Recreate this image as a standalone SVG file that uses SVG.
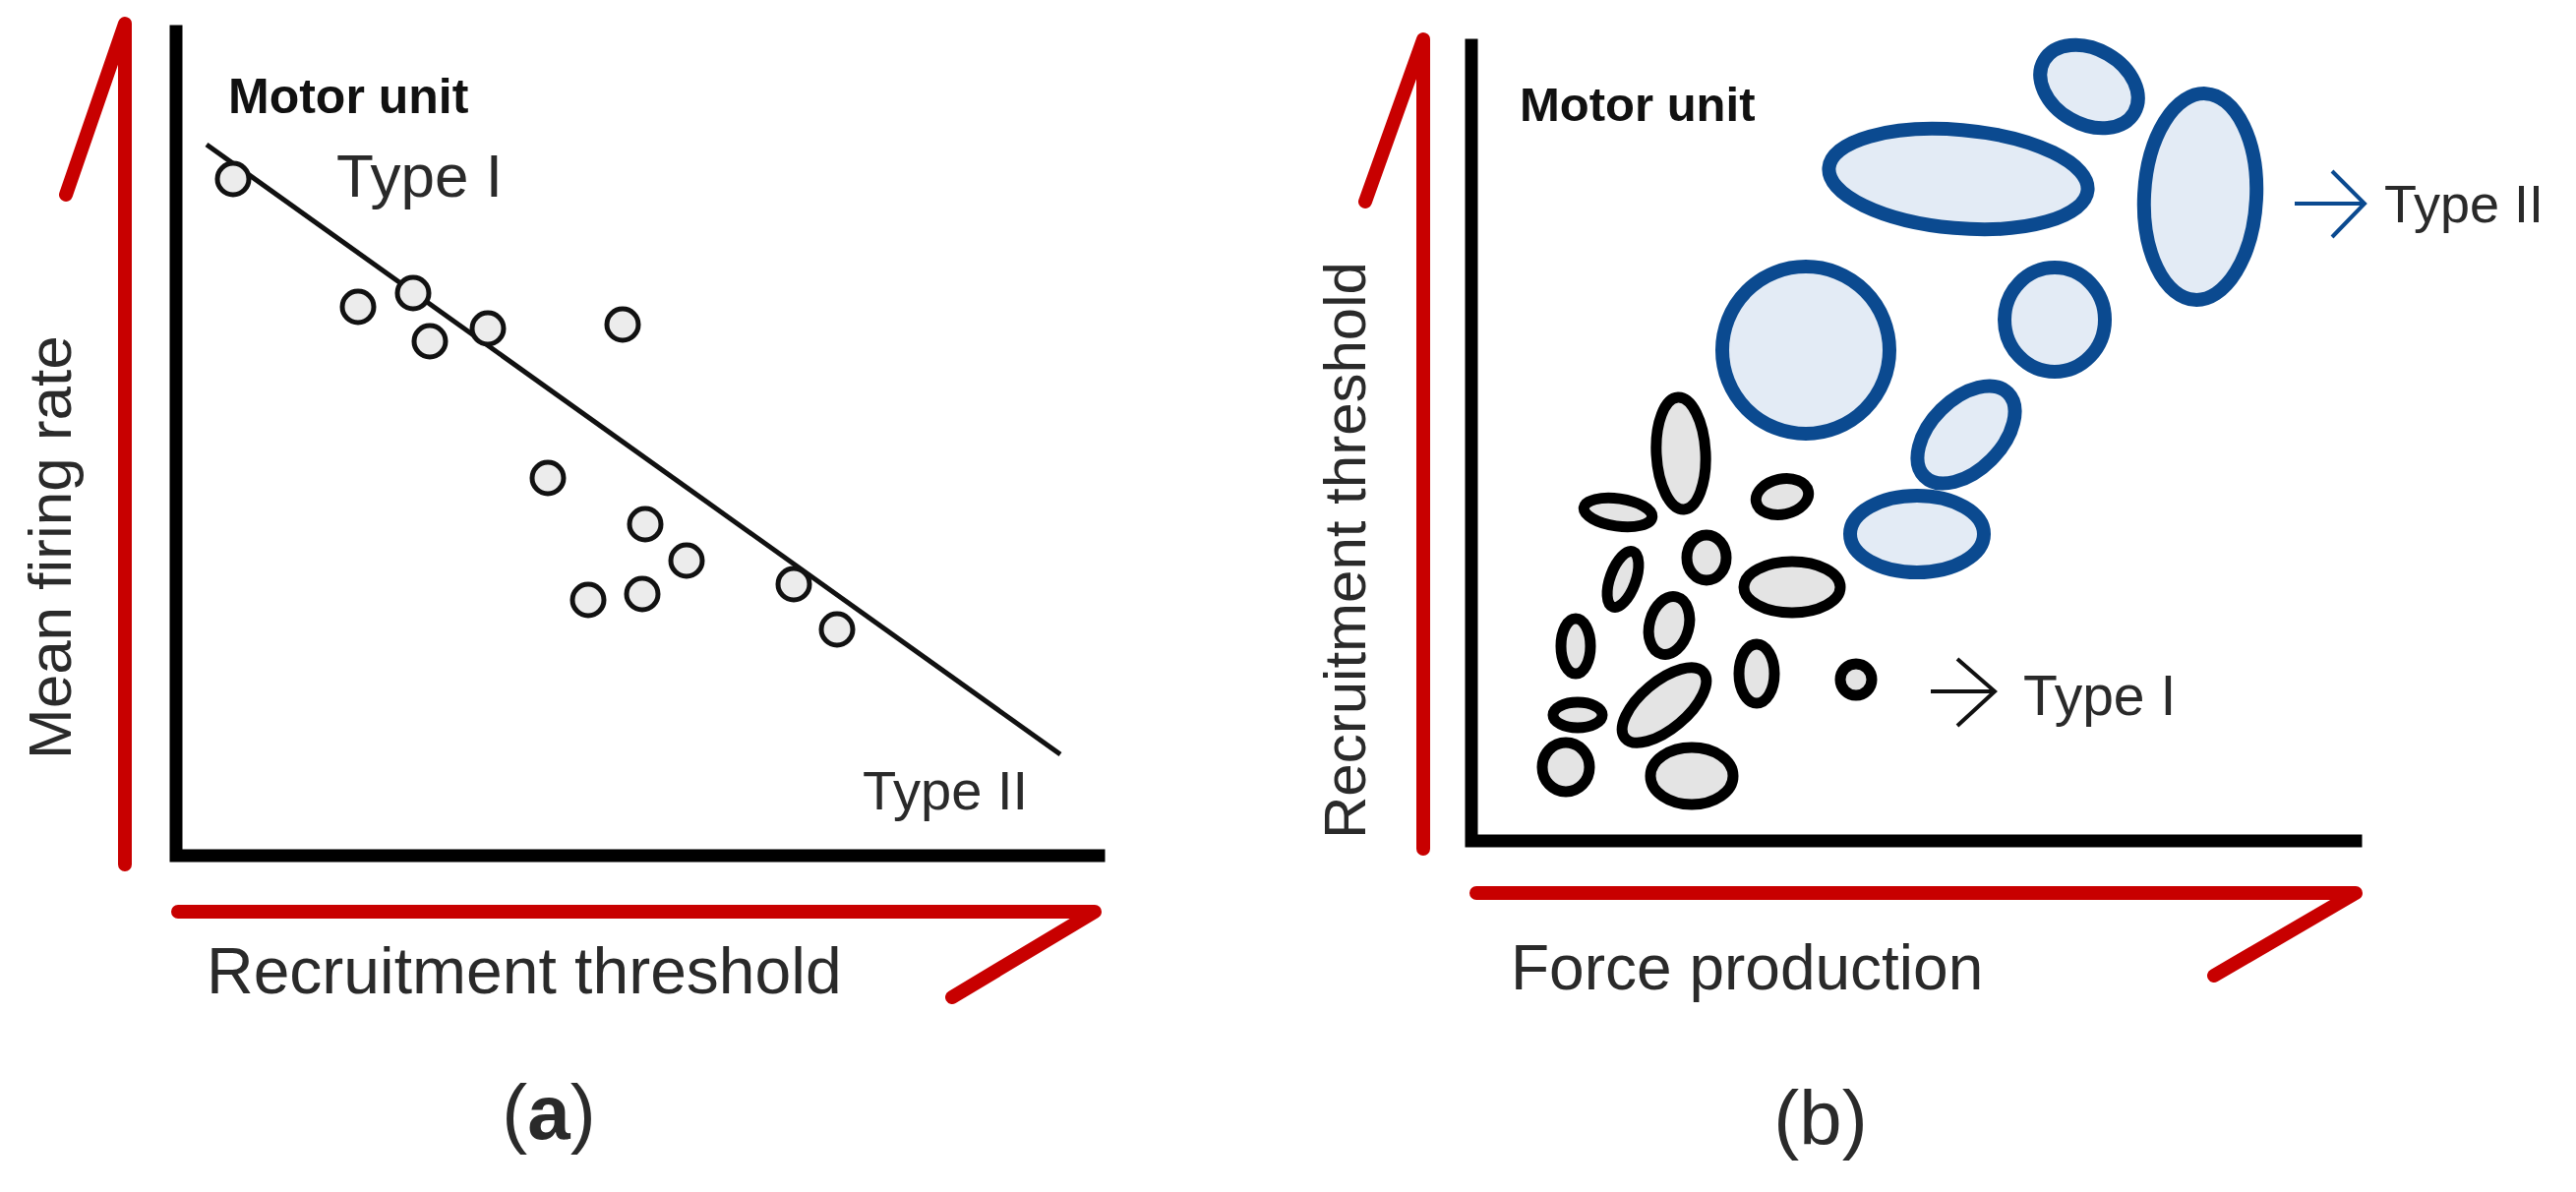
<svg xmlns="http://www.w3.org/2000/svg" width="2619" height="1212" viewBox="0 0 2619 1212">
<style>
.red{stroke:#c80000;stroke-width:14;fill:none;stroke-linecap:round;stroke-linejoin:round}
.ax{stroke:#000;stroke-width:13;fill:none;stroke-linecap:square;stroke-linejoin:miter}
.pt{fill:#ececec;stroke:#111;stroke-width:5}
.bk{fill:#e4e4e4;stroke:#000;stroke-width:11}
.bl{fill:#e3ebf5;stroke:#0b4a90;stroke-width:14}
.t{font-family:'Liberation Sans',Arial,sans-serif;fill:#2a2a2a}
.b{font-weight:bold;fill:#111}
</style>
<rect width="2619" height="1212" fill="#fff"/>
<g id="panel-a">
<polyline class="red" points="67,198 127,24 127,879"/>
<polyline class="red" points="181,927 1113,927 968,1014"/>
<polyline class="ax" points="179,32 179,870 1117,870"/>
<text class="t" transform="translate(72,772) rotate(-90)" font-size="62">Mean firing rate</text>
<text class="t" x="210" y="1010" font-size="66">Recruitment threshold</text>
<text class="t b" x="232" y="115" font-size="50">Motor unit</text>
<text class="t" x="342" y="200" font-size="62">Type I</text>
<text class="t" x="877" y="823" font-size="56">Type II</text>
<line x1="210" y1="147" x2="1078" y2="767" stroke="#111" stroke-width="5"/>
<g>
<circle class="pt" cx="237" cy="182" r="16"/><circle class="pt" cx="364" cy="312" r="16"/>
<circle class="pt" cx="420" cy="298" r="16"/><circle class="pt" cx="437" cy="347" r="16"/>
<circle class="pt" cx="496" cy="334" r="16"/><circle class="pt" cx="633" cy="330" r="16"/>
<circle class="pt" cx="557" cy="486" r="16"/><circle class="pt" cx="656" cy="533" r="16"/>
<circle class="pt" cx="698" cy="570" r="16"/><circle class="pt" cx="598" cy="610" r="16"/>
<circle class="pt" cx="653" cy="604" r="16"/><circle class="pt" cx="807" cy="594" r="16"/>
<circle class="pt" cx="851" cy="640" r="16"/>
</g>
<text class="t" x="558" y="1158" font-size="78" text-anchor="middle" fill="#000">(<tspan font-weight="bold">a</tspan>)</text>
</g>
<g id="panel-b">
<polyline class="red" points="1388,205 1447,40 1447,863"/>
<polyline class="red" points="1501,908 2395,908 2251,992"/>
<polyline class="ax" points="1496,46 1496,855 2395,855"/>
<text class="t" transform="translate(1388,853) rotate(-90)" font-size="60">Recruitment threshold</text>
<text class="t" x="1536" y="1006" font-size="64">Force production</text>
<text class="t b" x="1545" y="123" font-size="49">Motor unit</text>
<g id="type2">
<circle class="bl" cx="1836" cy="356" r="85"/>
<ellipse class="bl" cx="1991" cy="182" rx="132" ry="50" transform="rotate(5 1991 182)"/>
<ellipse class="bl" cx="2124" cy="88" rx="53" ry="38" transform="rotate(30 2124 88)"/>
<ellipse class="bl" cx="2237" cy="200" rx="57" ry="105" transform="rotate(3 2237 200)"/>
<ellipse class="bl" cx="2089" cy="325" rx="51" ry="53"/>
<ellipse class="bl" cx="1999" cy="442" rx="60" ry="36" transform="rotate(-45 1999 442)"/>
<ellipse class="bl" cx="1949" cy="543" rx="68" ry="39"/>
</g>
<g id="type1">
<ellipse class="bk" cx="1645" cy="521" rx="35" ry="14" transform="rotate(8 1645 521)"/>
<ellipse class="bk" cx="1709" cy="461" rx="25" ry="57" transform="rotate(-3 1709 461)"/>
<ellipse class="bk" cx="1812" cy="505" rx="27" ry="18" transform="rotate(-12 1812 505)"/>
<ellipse class="bk" cx="1650" cy="589" rx="13" ry="30" transform="rotate(20 1650 589)"/>
<ellipse class="bk" cx="1735" cy="567" rx="20" ry="23"/>
<ellipse class="bk" cx="1822" cy="597" rx="49" ry="26"/>
<ellipse class="bk" cx="1697" cy="636" rx="20" ry="30" transform="rotate(15 1697 636)"/>
<ellipse class="bk" cx="1602" cy="657" rx="15" ry="28"/>
<ellipse class="bk" cx="1786" cy="685" rx="18" ry="30"/>
<circle class="bk" cx="1887" cy="691" r="16"/>
<ellipse class="bk" cx="1604" cy="727" rx="25" ry="13"/>
<ellipse class="bk" cx="1692" cy="717" rx="52" ry="24" transform="rotate(-40 1692 717)"/>
<ellipse class="bk" cx="1592" cy="780" rx="24" ry="25"/>
<ellipse class="bk" cx="1720" cy="789" rx="42" ry="29"/>
</g>
<g id="connectors">
<path d="M2333,207 H2404 M2371,174 L2404,207 L2371,241" fill="none" stroke="#0b4a90" stroke-width="4"/>
<path d="M1963,703 H2028 M1990,670 L2028,703 L1990,738" fill="none" stroke="#111" stroke-width="4"/>
</g>
<text class="t" x="2424" y="226" font-size="54">Type II</text>
<text class="t" x="2057" y="727" font-size="57">Type I</text>
<text class="t" x="1851" y="1164" font-size="78" text-anchor="middle" fill="#000">(b)</text>
</g>
</svg>
